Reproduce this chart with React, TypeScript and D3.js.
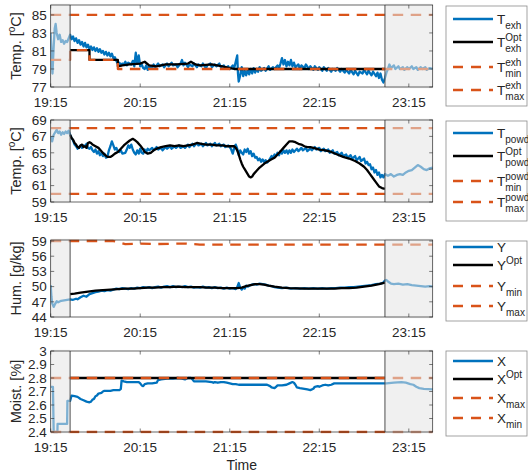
import React from 'react';
import * as d3 from 'd3';

// ---------------- data (time in minutes after 19:15) ----------------
const xTickMinutes = [0, 60, 120, 180, 240];
const xTickLabels = ['19:15', '20:15', '21:15', '22:15', '23:15'];
const timeDomain: [number, number] = [0, 256];
const shadeLeftEnd = 13;
const shadeRightStart = 224;

const tExh: [number, number][] = [
  [0,83],[0.7,80],[1.2,78.5],[2,81.5],[2.7,83.5],[3.3,84],[4,83],[5,82.3],[6,82.8],[7,82],[8,82.2],[9,81.8],[10,82.1],[11,82],[12,82.4],[13,82.8],[14,82.3],[15,82.6],[16,82.1],[17,82.4],[18,81.9],[19,82.2],[20,81.7],[21,82],[22,81.5],[23,81.9],[24,81.4],[25,81.7],[26,81.2],[27,81.5],[28,81.1],[29,81.4],[30,81],[31,81.3],[32,80.9],[33,81.2],[34,80.8],[35,81],[36,80.6],[37,80.9],[38,80.5],[39,80.8],[40,80.4],[41,80.7],[42,80.2],[43,80.3],[44,79.9],[45,79.6],[46,79.7],[47,79.4],[48,79.6],[49,79.5],[50,79.8],[51,79.4],[52,79.7],[54,79.5],[55,79.9],[56,79.3],[57,80.8],[58,79.6],[59,80.5],[60,79.3],[61,79.5],[62,79.1],[63,79.0],[64,79.4],[65,78.9],[66,79.3],[68,79.1],[69,79.5],[70,79.2],[72,79.6],[73,79.3],[75,79.5],[76,79.2],[78,79.6],[79,79.3],[81,79.7],[82,79.4],[84,79.5],[85,79.2],[87,79.6],[88,80.0],[89,79.4],[90,79.7],[92,79.2],[93,79.5],[95,79.3],[96,79.6],[98,79.2],[99,79.5],[101,79.3],[102,79.6],[104,79.1],[105,79.4],[107,79.6],[108,79.2],[110,79.5],[111,79.3],[113,79.6],[114,79.2],[116,79.4],[117,79.1],[119,79.3],[120,79.0],[122,79.4],[123,79.1],[124,79.8],[125,80.5],[125.5,78.5],[126,77.6],[127,78.3],[128,79.2],[129,78.2],[130,78.8],[131,78.3],[132,78.9],[133,78.4],[134,79.0],[135,78.5],[136,79.1],[137,78.6],[138,79.0],[139,78.7],[140,79.2],[141,78.8],[143,79.1],[144,78.8],[146,79.3],[147,78.9],[149,79.2],[150,79.0],[152,79.4],[153,79.1],[154,79.6],[155,80.2],[156,79.5],[157,80.0],[158,79.3],[159,79.8],[160,79.4],[161,80.0],[162,79.3],[163,79.7],[164,79.2],[166,79.5],[167,79.0],[168,79.4],[170,79.1],[171,79.5],[173,79.0],[174,79.3],[176,78.9],[177,79.3],[179,78.9],[180,79.2],[182,78.8],[183,79.2],[185,78.8],[186,79.1],[188,78.7],[189,79.0],[191,78.8],[192,79.1],[194,78.7],[195,79.0],[197,78.6],[198,78.9],[200,78.5],[201,78.9],[203,78.4],[204,78.8],[206,78.3],[207,78.7],[209,78.5],[210,78.9],[212,78.4],[213,78.8],[215,78.3],[216,78.7],[218,78.2],[219,78.6],[220,78.0],[221,78.5],[222,77.8],[223,77.5],[224,78.0],[225,78.6],[226,79.0],[227,79.5],[228,79.1],[230,79.4],[231,79.0],[233,79.3],[234,79.0],[236,79.2],[237,78.9],[239,79.2],[240,79.0],[242,79.3],[243,79.0],[245,79.2],[246,78.9],[248,79.2],[249,79.0],[251,79.2],[252,78.9],[254,79.1],[256,79.0],
];
const tExhOpt: [number, number][] = [
  [13,81.1],[26,81.1],[26,80],[45,80],[45,79.3],[48,79.4],[53,79.5],[60,79.6],[63,79.8],[66,79.4],[71,79.3],[77,79.5],[84,79.5],[92,79.6],[94,79.8],[97,79.5],[100,79.4],[108,79.5],[115,79.3],[120,79.1],[123,79.0],[224,79.0],
];
const tExhMin: [number, number][] = [
  [0,80],[13,80],[13,81.1],[26,81.1],[26,80],[45,80],[45,79],[256,79],
];
const tExhMax: [number, number][] = [[0,85],[256,85]];

const tPow: [number, number][] = [
  [0,67],[1,66.4],[2,67.2],[3,67.5],[4,67.8],[5,67.4],[6,67.6],[7,67.2],[8,67.5],[9,67.3],[10,67.6],[11,67.4],[12,67.7],[13,67.2],[14,66.8],[15,66.5],[16,66.0],[17,65.8],[18,65.5],[19,65.7],[20,65.9],[21,65.6],[22,65.9],[23,65.8],[24,66.1],[25,65.6],[26,65.5],[27,65.7],[28,65.3],[29,65.1],[30,65.4],[31,64.9],[32,65.2],[33,64.7],[34,65.0],[35,64.6],[36,64.9],[37,64.4],[38,64.5],[39,65.3],[40,65.8],[41,66.4],[42,65.9],[43,65.4],[44,65.6],[45,65.2],[46,65.1],[47,65.3],[48,64.9],[50,65.0],[51,65.4],[52,65.9],[53,65.6],[54,66.0],[55,65.4],[56,65.0],[57,64.8],[58,65.3],[59,64.9],[60,65.5],[61,65.0],[62,64.9],[63,65.4],[64,65.1],[65,65.5],[66,65.3],[68,65.6],[69,65.3],[71,65.7],[72,65.4],[74,65.6],[75,65.3],[77,65.7],[78,65.5],[80,65.8],[81,65.5],[83,65.8],[84,65.6],[86,65.9],[87,65.6],[89,65.8],[90,65.6],[92,66.0],[93,65.7],[95,66.1],[96,65.8],[98,66.2],[99,65.9],[101,66.1],[102,65.8],[104,66.2],[105,65.9],[107,66.1],[108,65.8],[110,66.2],[111,65.9],[113,66.1],[114,65.8],[116,66.0],[117,65.7],[119,65.9],[120,65.7],[121,65.4],[122,64.9],[123,65.6],[124,66.0],[125,65.5],[126,64.7],[127,65.3],[128,65.0],[129,64.8],[130,65.4],[131,65.1],[132,65.5],[133,64.9],[134,65.2],[135,64.6],[136,64.9],[137,64.4],[138,64.5],[139,64.1],[140,64.3],[141,63.9],[142,64.2],[143,63.9],[144,64.1],[145,63.8],[146,64.0],[147,64.3],[148,64.6],[149,64.4],[150,64.8],[151,64.6],[152,65.0],[153,64.7],[154,65.2],[155,64.9],[156,65.3],[157,65.0],[158,65.3],[159,64.9],[160,65.3],[161,65.0],[162,65.4],[163,65.1],[165,65.5],[166,65.2],[168,65.6],[169,65.3],[171,65.6],[172,65.2],[174,65.5],[175,65.3],[177,65.7],[178,65.4],[180,65.6],[181,65.2],[183,65.5],[184,65.2],[186,65.4],[187,65.0],[189,65.3],[190,64.9],[192,65.1],[193,64.7],[195,65.0],[196,64.6],[198,64.8],[199,64.4],[201,64.7],[202,64.3],[204,64.6],[205,64.1],[207,64.5],[208,64.0],[210,64.3],[211,63.7],[212,63.9],[213,63.5],[214,63.6],[215,63.0],[216,63.2],[217,62.6],[218,62.9],[219,62.3],[220,62.6],[221,62.0],[222,62.3],[223,62.0],[224,62.4],[226,62.2],[228,62.4],[230,62.1],[232,62.3],[234,62.4],[236,62.3],[238,62.6],[240,62.8],[242,62.9],[244,63.2],[246,63.5],[248,63.3],[250,63.0],[252,62.9],[254,63.1],[256,63.2],
];
const tPowOpt: [number, number][] = [
  [13,67.2],[14,66.8],[15,66.6],[16,66.2],[17,66.0],[18,65.7],[19,65.6],[20,65.9],[21,66.0],[22,65.7],[23,65.8],[24,65.6],[25,66.2],[26,66.3],[27,66.2],[28,66.0],[30,65.8],[32,65.6],[34,65.2],[36,64.8],[38,64.5],[40,64.5],[41,64.6],[43,64.9],[45,65.1],[47,65.5],[49,65.9],[51,66.2],[53,66.5],[55,66.7],[56,66.6],[58,66.3],[60,65.9],[62,65.4],[63,65.1],[64,65.0],[65,64.9],[67,65.0],[69,65.3],[71,65.5],[74,65.7],[77,65.8],[80,65.9],[83,65.8],[86,65.9],[89,65.8],[92,65.9],[95,66.0],[98,66.2],[101,66.1],[104,66.0],[108,66.0],[111,65.9],[115,65.9],[118,65.8],[121,65.8],[123,65.8],[124,65.6],[125,65.3],[126,64.8],[127,64.2],[128,63.7],[129,63.3],[130,63.0],[131,62.7],[132,62.4],[133,62.1],[134,62.0],[135,62.1],[136,62.4],[138,62.8],[140,63.2],[142,63.5],[144,63.8],[146,64.0],[148,64.2],[150,64.4],[152,64.8],[154,65.2],[156,65.6],[158,66.0],[160,66.4],[162,66.4],[164,66.3],[166,66.1],[168,66.0],[170,65.8],[172,65.7],[174,65.7],[176,65.6],[178,65.5],[180,65.4],[184,65.3],[188,65.1],[192,64.8],[196,64.5],[200,64.3],[204,64.0],[207,63.7],[210,63.3],[212,62.9],[214,62.4],[216,61.9],[218,61.4],[220,60.9],[222,60.7],[224,60.6],
];
const tPowMin: [number, number][] = [[0,60],[256,60]];
const tPowMax: [number, number][] = [[0,68],[256,68]];

const hum: [number, number][] = [
  [0,50.3],[0.5,48],[1,46.7],[2,46],[3,46.6],[4,47.1],[5,46.9],[7,47.2],[9,47.3],[11,47.4],[13,47.5],[15,47.4],[17,47.6],[18,47.5],[20,47.9],[22,48.2],[24,48.0],[26,48.5],[28,48.7],[30,48.9],[32,49.0],[34,49.2],[36,49.1],[38,49.3],[40,49.2],[42,49.4],[44,49.6],[46,49.5],[48,49.7],[50,49.6],[52,49.5],[54,49.7],[56,49.6],[58,49.8],[60,49.7],[62,49.9],[64,49.8],[66,49.9],[68,49.7],[70,49.9],[72,50.0],[74,49.8],[76,50.0],[78,50.1],[80,49.9],[82,50.1],[84,49.9],[86,50.0],[88,49.9],[90,50.1],[92,49.9],[94,50.0],[96,49.8],[98,49.9],[100,49.8],[102,50.0],[104,49.8],[106,49.9],[108,49.7],[110,49.9],[112,49.7],[114,49.8],[116,49.6],[118,49.8],[120,49.6],[122,49.7],[124,49.5],[125,49.9],[126,50.7],[127,49.8],[128,49.4],[129,49.9],[130,49.6],[131,50.2],[132,50.0],[134,50.3],[136,50.5],[138,50.4],[140,50.6],[142,50.5],[144,50.4],[146,50.2],[148,50.1],[150,49.9],[152,49.8],[155,49.7],[158,49.8],[161,49.6],[164,49.7],[167,49.6],[170,49.7],[173,49.6],[176,49.7],[179,49.6],[182,49.7],[185,49.6],[188,49.7],[191,49.7],[194,49.8],[197,49.8],[200,49.9],[203,49.9],[206,50.0],[209,50.1],[212,50.2],[215,50.3],[218,50.5],[221,50.6],[223,50.8],[224,51.2],[225,51.3],[226,51.0],[228,50.6],[230,50.5],[233,50.6],[236,50.4],[239,50.5],[242,50.3],[245,50.2],[248,50.1],[251,50.0],[254,50.1],[256,50.0],
];
const humOpt: [number, number][] = [
  [13,48.5],[16,48.6],[20,48.8],[25,49.0],[30,49.2],[35,49.3],[40,49.4],[45,49.5],[50,49.6],[55,49.6],[60,49.7],[65,49.8],[70,49.8],[75,49.9],[80,49.9],[85,50.0],[90,49.9],[95,49.9],[100,49.9],[105,49.8],[110,49.8],[115,49.7],[120,49.7],[125,49.7],[128,49.8],[131,50.1],[134,50.3],[137,50.5],[140,50.5],[143,50.4],[146,50.2],[150,50.0],[155,49.8],[160,49.7],[170,49.6],[180,49.6],[190,49.6],[195,49.7],[200,49.7],[205,49.8],[210,50.0],[215,50.2],[220,50.5],[224,50.8],
];
const humMin: [number, number][] = [[0,40],[256,40]];
const humMax: [number, number][] = [[0,59.0],[42,59.0],[46,58.7],[50,58.4],[60,58.5],[70,58.4],[90,58.5],[100,58.3],[256,58.3]];

const moist: [number, number][] = [
  [0,2.735],[1.5,2.735],[2,2.40],[4.5,2.40],[4.6,2.46],[11,2.46],[11.2,2.63],[13,2.63],[14,2.67],[16,2.665],[18,2.66],[20,2.645],[22,2.635],[24,2.625],[26,2.62],[27,2.625],[28,2.64],[29,2.645],[30,2.665],[31,2.67],[32,2.685],[34,2.69],[35,2.70],[36,2.705],[38,2.705],[40,2.705],[42,2.71],[44,2.71],[46,2.71],[47,2.72],[47.5,2.78],[49,2.775],[51,2.77],[55,2.77],[59,2.77],[60,2.76],[61,2.745],[62,2.74],[63,2.755],[65,2.76],[68,2.76],[71,2.765],[72,2.785],[74,2.79],[78,2.795],[82,2.795],[85,2.80],[88,2.795],[90,2.79],[92,2.80],[94,2.80],[95,2.79],[96,2.775],[100,2.775],[104,2.775],[108,2.77],[109,2.765],[110,2.77],[112,2.765],[114,2.77],[116,2.77],[118,2.765],[120,2.76],[122,2.755],[124,2.755],[126,2.75],[130,2.75],[135,2.75],[140,2.75],[145,2.75],[147,2.74],[148,2.73],[150,2.725],[151,2.735],[152,2.745],[155,2.745],[158,2.75],[160,2.76],[162,2.77],[163,2.765],[164,2.75],[165,2.73],[167,2.725],[170,2.72],[172,2.715],[174,2.71],[176,2.72],[177,2.735],[179,2.74],[180,2.735],[182,2.745],[184,2.75],[186,2.745],[188,2.75],[190,2.76],[195,2.76],[200,2.76],[210,2.76],[220,2.76],[225,2.76],[230,2.765],[235,2.77],[238,2.765],[241,2.755],[243,2.75],[245,2.735],[247,2.725],[250,2.72],[256,2.715],
];
const moistOpt: [number, number][] = [[13,2.8],[224,2.8]];
const moistMax: [number, number][] = [[0,2.8],[256,2.8]];
const moistMin: [number, number][] = [[0,2.4],[256,2.4]];

const yTicks1 = [77, 79, 81, 83, 85];
const yTicks2 = [59, 61, 63, 65, 67, 69];
const yTicks3 = [44, 47, 50, 53, 56, 59];
const yTicks4 = [2.4, 2.5, 2.6, 2.7, 2.8, 2.9, 3];

// ---------------- layout / style ----------------
const W = 528, H = 474;
const FONT = '"Liberation Sans", Arial, Helvetica, sans-serif';
const TXT = '#262626';
const BLUE = '#0072BD';
const ORANGE = '#D95319';
const AX_L = 50.7, AX_R = 432.7;
const LEG_L = 446, LEG_R = 527;
const LW = 2.3;

type Leg = { main: string; sup?: string; sub?: string };
type Ser = { data: [number, number][]; color: string; dashed?: boolean };

const panels = [
  {
    top: 5, bottom: 87, yDomain: [77, 86.1], yTicks: yTicks1, ylabel: 'temp',
    series: [
      { data: tExh, color: BLUE }, { data: tExhOpt, color: '#000' },
      { data: tExhMin, color: ORANGE, dashed: true }, { data: tExhMax, color: ORANGE, dashed: true },
    ] as Ser[],
    legTop: 6, legBottom: 106, rows: [19, 42, 67, 90],
    legend: [{ main: 'T', sub: 'exh' }, { main: 'T', sup: 'Opt', sub: 'exh' }, { main: 'T', sup: 'exh', sub: 'min' }, { main: 'T', sup: 'exh', sub: 'max' }] as Leg[],
  },
  {
    top: 120, bottom: 202, yDomain: [59, 69], yTicks: yTicks2, ylabel: 'temp',
    series: [
      { data: tPow, color: BLUE }, { data: tPowOpt, color: '#000' },
      { data: tPowMin, color: ORANGE, dashed: true }, { data: tPowMax, color: ORANGE, dashed: true },
    ] as Ser[],
    legTop: 121, legBottom: 221, rows: [133, 156, 181, 202],
    legend: [{ main: 'T', sub: 'powder' }, { main: 'T', sup: 'Opt', sub: 'powder' }, { main: 'T', sup: 'powder', sub: 'min' }, { main: 'T', sup: 'powder', sub: 'max' }] as Leg[],
  },
  {
    top: 240, bottom: 317, yDomain: [44, 59.2], yTicks: yTicks3, ylabel: 'Hum. [g/kg]',
    series: [
      { data: hum, color: BLUE }, { data: humOpt, color: '#000' },
      { data: humMin, color: ORANGE, dashed: true }, { data: humMax, color: ORANGE, dashed: true },
    ] as Ser[],
    legTop: 241, legBottom: 321, rows: [247, 265, 286, 306],
    legend: [{ main: 'Y' }, { main: 'Y', sup: 'Opt' }, { main: 'Y', sub: 'min' }, { main: 'Y', sub: 'max' }] as Leg[],
  },
  {
    top: 351, bottom: 432, yDomain: [2.4, 3], yTicks: yTicks4, ylabel: 'Moist. [%]',
    series: [
      { data: moist, color: BLUE }, { data: moistOpt, color: '#000' },
      { data: moistMax, color: ORANGE, dashed: true }, { data: moistMin, color: ORANGE, dashed: true },
    ] as Ser[],
    legTop: 351, legBottom: 436, rows: [361, 379, 398, 418],
    legend: [{ main: 'X' }, { main: 'X', sup: 'Opt' }, { main: 'X', sub: 'max' }, { main: 'X', sub: 'min' }] as Leg[],
  },
];

const x = d3.scaleLinear().domain(timeDomain).range([AX_L, AX_R]);

function Panel({ p, idx }: { p: typeof panels[number]; idx: number }) {
  const y = d3.scaleLinear().domain(p.yDomain).range([p.bottom, p.top]);
  const line = d3.line<[number, number]>().x(d => x(d[0])).y(d => y(d[1]));
  const clipId = `clip${idx}`;
  const midY = (p.top + p.bottom) / 2;
  const xs0 = x(timeDomain[0]);
  const xs1 = x(shadeLeftEnd);
  const xs2 = x(shadeRightStart);
  const xs3 = x(timeDomain[1]);
  return (
    <g>
      <defs>
        <clipPath id={clipId}>
          <rect x={AX_L} y={p.top - 1.5} width={AX_R - AX_L} height={p.bottom - p.top + 3} />
        </clipPath>
      </defs>
      <rect x={AX_L} y={p.top} width={AX_R - AX_L} height={p.bottom - p.top} fill="#fff" />
      <g clipPath={`url(#${clipId})`}>
        {p.series.map((s, i) => (
          <path key={i} d={line(s.data) || ''} fill="none" stroke={s.color} strokeWidth={LW}
            strokeDasharray={s.dashed ? '10.5 7.5' : undefined} strokeLinejoin="round" />
        ))}
        <rect x={xs0} y={p.top - 1.5} width={xs1 - xs0} height={p.bottom - p.top + 3} fill="#e4e4e4" opacity={0.55} />
        <rect x={xs2} y={p.top - 1.5} width={xs3 - xs2} height={p.bottom - p.top + 3} fill="#e4e4e4" opacity={0.55} />
      </g>
      <line x1={xs1} x2={xs1} y1={p.top} y2={p.bottom} stroke="#4d4d4d" strokeWidth={1} />
      <line x1={xs2} x2={xs2} y1={p.top} y2={p.bottom} stroke="#4d4d4d" strokeWidth={1} />
      {p.yTicks.map(t => (
        <g key={t}>
          <line x1={AX_L} x2={AX_L + 3.5} y1={y(t)} y2={y(t)} stroke={TXT} strokeWidth={0.6} />
          <line x1={AX_R} x2={AX_R - 3.5} y1={y(t)} y2={y(t)} stroke={TXT} strokeWidth={0.6} />
          <text x={AX_L - 4} y={y(t)} dy="0.36em" textAnchor="end" fontSize={13.5} fill={TXT}>{String(+t.toFixed(1))}</text>
        </g>
      ))}
      {xTickMinutes.map((t, i) => (
        <g key={t}>
          <line x1={x(t)} x2={x(t)} y1={p.bottom} y2={p.bottom - 3.5} stroke={TXT} strokeWidth={0.6} />
          <line x1={x(t)} x2={x(t)} y1={p.top} y2={p.top + 3.5} stroke={TXT} strokeWidth={0.6} />
          <text x={x(t)} y={p.bottom + 20} textAnchor="middle" fontSize={13.5} fill={TXT}>{xTickLabels[i]}</text>
        </g>
      ))}
      <rect x={AX_L} y={p.top} width={AX_R - AX_L} height={p.bottom - p.top} fill="none" stroke={TXT} strokeWidth={0.7} />
      <text transform={`translate(21,${midY}) rotate(-90)`} textAnchor="middle" fontSize={14.5} fill={TXT}>
        {p.ylabel === 'temp' ? (
          <>
            <tspan>Temp. [</tspan>
            <tspan fontSize={10} dy={-6}>o</tspan>
            <tspan dy={6}>C]</tspan>
          </>
        ) : p.ylabel}
      </text>
      <rect x={LEG_L} y={p.legTop} width={LEG_R - LEG_L} height={p.legBottom - p.legTop} fill="#fff" stroke="#8c8c8c" strokeWidth={0.8} />
      {p.legend.map((l, i) => {
        const s = p.series[i];
        const ly = p.rows[i];
        const tx = 497;
        const mw = l.main === 'T' ? 8.3 : 9.0;
        return (
          <g key={i}>
            <line x1={453} x2={493} y1={ly} y2={ly} stroke={s.color} strokeWidth={LW} strokeDasharray={s.dashed ? '10 8' : undefined} />
            <text x={tx} y={ly + 5} fontSize={13.5} fill={TXT}>{l.main}</text>
            {l.sup && <text x={tx + mw} y={ly - 1.5} fontSize={10} fill={TXT}>{l.sup}</text>}
            {l.sub && <text x={tx + mw} y={ly + 9.5} fontSize={10} fill={TXT}>{l.sub}</text>}
          </g>
        );
      })}
    </g>
  );
}

export default function App() {
  return (
    <svg width={W} height={H} viewBox={`0 0 ${W} ${H}`}
      style={{ position: 'absolute', left: 0, top: 0, background: '#fff', fontFamily: FONT }}>
      <rect x={0} y={0} width={W} height={H} fill="#fff" />
      {panels.map((p, i) => <Panel key={i} p={p} idx={i} />)}
      <text x={(AX_L + AX_R) / 2} y={470} textAnchor="middle" fontSize={14} fill={TXT}>Time</text>
    </svg>
  );
}
